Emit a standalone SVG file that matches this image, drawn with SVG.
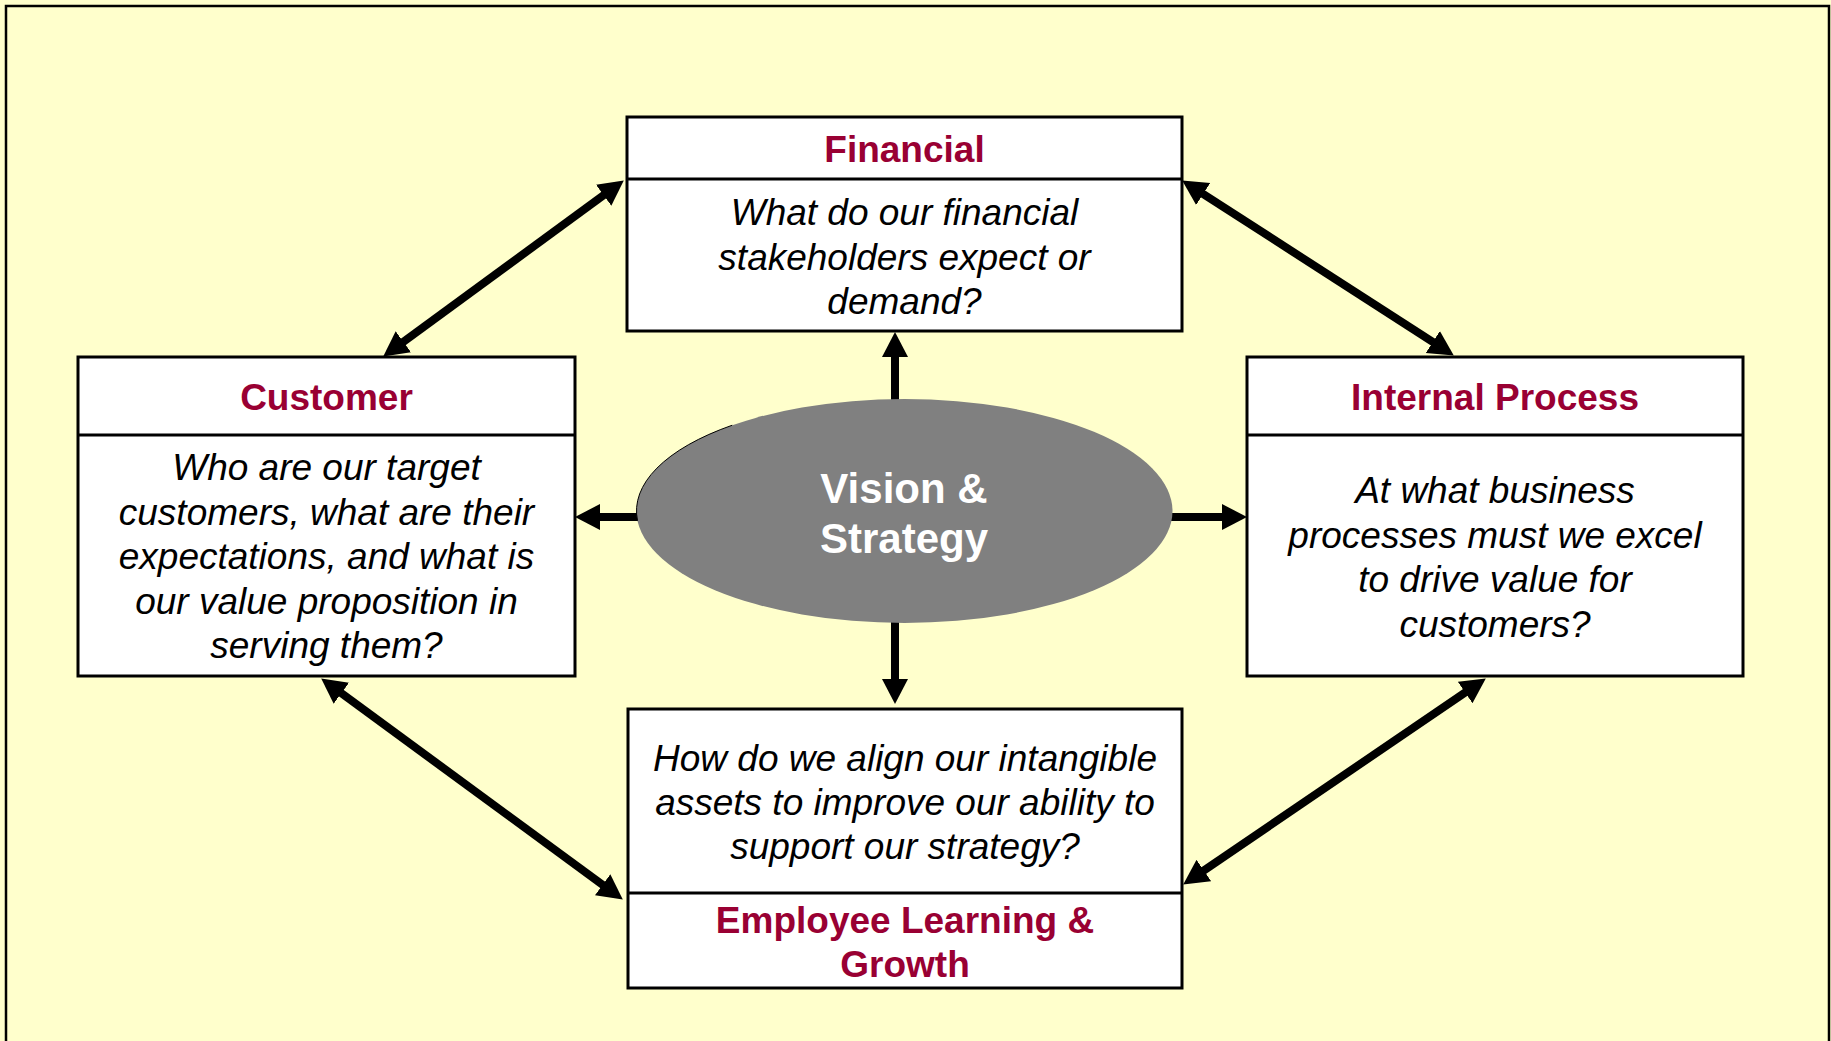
<svg xmlns="http://www.w3.org/2000/svg" width="1831" height="1041" viewBox="0 0 1831 1041">
<style>
.box{fill:#ffffff;stroke:#000000;stroke-width:3}
.div{stroke:#000000;stroke-width:3}
.title{font-family:"Liberation Sans",Arial,sans-serif;font-weight:bold;font-size:37px;fill:#990033;text-anchor:middle}
.body{font-family:"Liberation Sans",Arial,sans-serif;font-style:italic;font-size:37px;fill:#000000;text-anchor:middle}
.vs{font-family:"Liberation Sans",Arial,sans-serif;font-weight:bold;font-size:42px;fill:#ffffff;text-anchor:middle}
.arr{stroke:#000000;stroke-width:8;fill:none;marker-end:url(#head)}
.arr2{stroke:#000000;stroke-width:8;fill:none;marker-end:url(#head);marker-start:url(#head)}
</style>
<defs>
<marker id="head" markerUnits="userSpaceOnUse" markerWidth="26" markerHeight="28" refX="10" refY="13" orient="auto-start-reverse" viewBox="0 0 26 26">
<path d="M0,0 L25,13 L0,26 z" fill="#000000"/>
</marker>
</defs>
<rect x="0" y="0" width="1831" height="1041" fill="#ffffcc"/>
<rect id="frame" x="6" y="6" width="1823" height="1060" fill="none" stroke="#000000" stroke-width="2.5"/>

<g id="connectors">
<line class="arr2" x1="395.3" y1="347.7" x2="611.7" y2="189.3"/>
<line class="arr2" x1="1194.8" y1="188.6" x2="1441.2" y2="347.4"/>
<line class="arr2" x1="333.3" y1="687.3" x2="610.7" y2="890.7"/>
<line class="arr2" x1="1473.4" y1="686.9" x2="1195.6" y2="876.1"/>
<line class="arr" x1="895" y1="404" x2="895" y2="347"/>
<line class="arr" x1="895" y1="621" x2="895" y2="689"/>
<line class="arr" x1="640" y1="517" x2="590" y2="517"/>
<line class="arr" x1="1167" y1="517" x2="1232" y2="517"/>
</g>

<g id="financial">
<rect class="box" x="627" y="117" width="555" height="214"/>
<line class="div" x1="627" y1="179" x2="1182" y2="179"/>
<text class="title" x="904.5" y="162">Financial</text>
<text class="body" x="904.5" y="225">What do our financial</text>
<text class="body" x="904.5" y="269.5">stakeholders expect or</text>
<text class="body" x="904.5" y="314">demand?</text>
</g>

<g id="customer">
<rect class="box" x="78" y="357" width="497" height="319"/>
<line class="div" x1="78" y1="435" x2="575" y2="435"/>
<text class="title" x="326.5" y="410">Customer</text>
<text class="body" x="326.5" y="480">Who are our target</text>
<text class="body" x="326.5" y="524.5">customers, what are their</text>
<text class="body" x="326.5" y="569">expectations, and what is</text>
<text class="body" x="326.5" y="613.5">our value proposition in</text>
<text class="body" x="326.5" y="658">serving them?</text>
</g>

<g id="internal">
<rect class="box" x="1247" y="357" width="496" height="319"/>
<line class="div" x1="1247" y1="435" x2="1743" y2="435"/>
<text class="title" x="1495" y="410">Internal Process</text>
<text class="body" x="1495" y="503">At what business</text>
<text class="body" x="1495" y="547.5">processes must we excel</text>
<text class="body" x="1495" y="592">to drive value for</text>
<text class="body" x="1495" y="636.5">customers?</text>
</g>

<g id="employee">
<rect class="box" x="628" y="709" width="554" height="279"/>
<line class="div" x1="628" y1="893" x2="1182" y2="893"/>
<text class="body" x="905" y="771">How do we align our intangible</text>
<text class="body" x="905" y="815">assets to improve our ability to</text>
<text class="body" x="905" y="859">support our strategy?</text>
<text class="title" x="905" y="933">Employee Learning &amp;</text>
<text class="title" x="905" y="977">Growth</text>
</g>

<g id="vision">
<ellipse cx="904.5" cy="511" rx="268" ry="112" fill="#808080"/>
<path d="M637.52,520.76 A268 112 0 0 1 732.23,425.21" fill="none" stroke="#000000" stroke-width="1"/>
<text class="vs" x="904" y="503">Vision &amp;</text>
<text class="vs" x="904" y="553">Strategy</text>
</g>
</svg>
